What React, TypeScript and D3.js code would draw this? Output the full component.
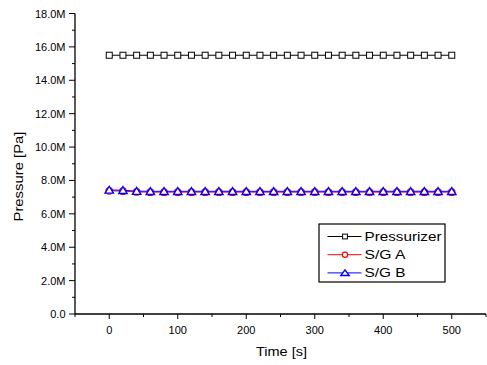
import * as d3 from 'd3';

// sample times [s]
const TIME = [
  0, 20, 40, 60, 80, 100, 120, 140, 160, 180, 200, 220, 240, 260, 280, 300,
  320, 340, 360, 380, 400, 420, 440, 460, 480, 500,
];

// pressures [Pa]
const PRESSURIZER = [
  15.5e6, 15.5e6, 15.5e6, 15.5e6, 15.5e6, 15.5e6, 15.5e6, 15.5e6, 15.5e6,
  15.5e6, 15.5e6, 15.5e6, 15.5e6, 15.5e6, 15.5e6, 15.5e6, 15.5e6, 15.5e6,
  15.5e6, 15.5e6, 15.5e6, 15.5e6, 15.5e6, 15.5e6, 15.5e6, 15.5e6,
];
const SG_A = [
  7.38e6, 7.36e6, 7.31e6, 7.3e6, 7.3e6, 7.3e6, 7.3e6, 7.3e6, 7.3e6, 7.3e6,
  7.3e6, 7.3e6, 7.3e6, 7.3e6, 7.3e6, 7.3e6, 7.3e6, 7.3e6, 7.3e6, 7.3e6,
  7.3e6, 7.3e6, 7.3e6, 7.3e6, 7.3e6, 7.3e6,
];
const SG_B = [
  7.43e6, 7.41e6, 7.36e6, 7.35e6, 7.35e6, 7.35e6, 7.35e6, 7.35e6, 7.35e6,
  7.35e6, 7.35e6, 7.35e6, 7.35e6, 7.35e6, 7.35e6, 7.35e6, 7.35e6, 7.35e6,
  7.35e6, 7.35e6, 7.35e6, 7.35e6, 7.35e6, 7.35e6, 7.35e6, 7.35e6,
];

const X_TICKS = [0, 100, 200, 300, 400, 500];
const Y_TICKS = [0, 2e6, 4e6, 6e6, 8e6, 10e6, 12e6, 14e6, 16e6, 18e6];

const W = 487;
const H = 365;
const FONT = 'Liberation Sans, Arial, sans-serif';

type Marker = 'square' | 'circle' | 'triangle';

function MarkerShape({
  kind,
  x,
  y,
  color,
  s = 1,
}: {
  kind: Marker;
  x: number;
  y: number;
  color: string;
  s?: number;
}) {
  if (kind === 'square') {
    const h = 3 * s;
    return <rect x={x - h} y={y - h} width={2 * h} height={2 * h} fill='#fff' stroke={color} strokeWidth={1} />;
  }
  if (kind === 'circle')
    return <circle cx={x} cy={y} r={3.3 * s} fill='#fff' stroke={color} strokeWidth={1.2} />;
  // wide, flat triangle like the reference
  const hw = 4.2;
  const hh = 3.2 * s;
  return (
    <path
      d={`M${x},${y - hh - 0.5}L${x + hw},${y + hh}L${x - hw},${y + hh}Z`}
      fill='#fff'
      stroke={color}
      strokeWidth={1.4}
    />
  );
}

export default function App() {
  const x = d3.scaleLinear([-50, 550], [75, 486]);
  const y = d3.scaleLinear([0, 18e6], [314, 13.5]);

  const series: { name: string; values: number[]; color: string; marker: Marker; w: number }[] = [
    { name: 'Pressurizer', values: PRESSURIZER, color: '#000', marker: 'square', w: 77 },
    { name: 'S/G A', values: SG_A, color: '#ff0000', marker: 'circle', w: 41 },
    { name: 'S/G B', values: SG_B, color: '#0000ff', marker: 'triangle', w: 41 },
  ];

  const line = d3
    .line<number>()
    .x((_, i) => x(TIME[i]))
    .y((d) => y(d));

  const xMinor = d3.range(-50, 551, 50).filter((v) => v % 100 !== 0);
  const yMinor = d3.range(1e6, 18e6, 2e6);
  const fmtY = (v: number) => (v === 0 ? '0.0' : `${(v / 1e6).toFixed(1)}M`);

  return (
    <svg
      width={W}
      height={H}
      style={{ position: 'absolute', left: 0, top: 0, display: 'block', background: '#fff' }}
      fontFamily={FONT}
    >
      {/* series */}
      {series.map((s) => (
        <g key={s.name}>
          <path d={line(s.values) ?? ''} fill='none' stroke={s.color} strokeWidth={1} />
          {s.values.map((v, i) => (
            <MarkerShape key={i} kind={s.marker} x={x(TIME[i])} y={y(v)} color={s.color} />
          ))}
        </g>
      ))}

      {/* axes */}
      <line x1={75} x2={486} y1={314} y2={314} stroke='#000' strokeWidth={1.3} />
      <line x1={75} x2={75} y1={13.5} y2={314} stroke='#000' strokeWidth={1.3} />
      {X_TICKS.map((t) => (
        <g key={t}>
          <line x1={x(t)} x2={x(t)} y1={314} y2={319} stroke='#000' />
          <text x={x(t)} y={334} fontSize={11} textAnchor='middle' fill='#000'>
            {t}
          </text>
        </g>
      ))}
      {xMinor.map((t) => (
        <line key={t} x1={x(t)} x2={x(t)} y1={314} y2={317} stroke='#000' />
      ))}
      {Y_TICKS.map((t) => (
        <g key={t}>
          <line x1={69} x2={75} y1={y(t)} y2={y(t)} stroke='#000' />
          <text x={65.5} y={y(t) + 4} fontSize={11} textAnchor='end' fill='#000'>
            {fmtY(t)}
          </text>
        </g>
      ))}
      {yMinor.map((t) => (
        <line key={t} x1={72} x2={75} y1={y(t)} y2={y(t)} stroke='#000' />
      ))}
      <text x={256} y={356} fontSize={12.5} textLength={51} lengthAdjust='spacingAndGlyphs'>
        Time [s]
      </text>
      <text
        transform='translate(23,221.5) rotate(-90)'
        fontSize={12.5}
        textLength={90}
        lengthAdjust='spacingAndGlyphs'
      >
        Pressure [Pa]
      </text>

      {/* legend */}
      <rect x={319} y={224} width={126} height={58} fill='#fff' stroke='#000' strokeWidth={1.2} />
      {series.map((s, i) => {
        const yy = 236.5 + i * 18.2;
        return (
          <g key={s.name}>
            <line x1={327.5} x2={361.5} y1={yy} y2={yy} stroke={s.color} strokeWidth={1} />
            <MarkerShape kind={s.marker} x={345} y={yy} color={s.color} s={0.8} />
            <text x={364.5} y={yy + 4.5} fontSize={12} textLength={s.w} lengthAdjust='spacingAndGlyphs'>
              {s.name}
            </text>
          </g>
        );
      })}
    </svg>
  );
}
